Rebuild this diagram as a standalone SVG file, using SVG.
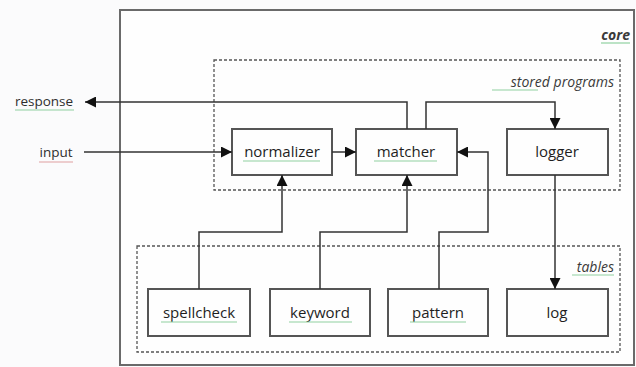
<svg xmlns="http://www.w3.org/2000/svg" width="636" height="367" viewBox="0 0 636 367">
  <style>
    .bg { fill: #fbfbfc; }
    .core { fill: #fefefe; stroke: #6a6a6a; stroke-width: 2; }
    .group { fill: none; stroke: #555; stroke-width: 1.3; stroke-dasharray: 3 2; }
    .node rect { fill: #fefefe; stroke: #555; stroke-width: 2; }
    .label { font-family: "Open Sans", "Liberation Sans", sans-serif; font-size: 15px; fill: #1e1e1e; text-anchor: middle; }
    .glabel { font-family: "Open Sans", "Liberation Sans", sans-serif; font-size: 14px; fill: #3a3a3a; font-style: italic; text-anchor: end; }
    .ext { font-family: "Open Sans", "Liberation Sans", sans-serif; font-size: 13.5px; fill: #2e2e2e; text-anchor: middle; }
    .wire { fill: none; stroke: #333; stroke-width: 1.5; }
    .sq-g { stroke: #8fd0a0; stroke-width: 1.2; }
    .sq-r { stroke: #e0a0a0; stroke-width: 1.2; }
  </style>
  <defs>
    <marker id="arrow" viewBox="0 0 10 10" refX="10" refY="5" markerWidth="12" markerHeight="11" markerUnits="userSpaceOnUse" orient="auto">
      <path d="M0,0 L10,5 L0,10 Z" fill="#111"/>
    </marker>
  </defs>

  <rect class="bg" x="0" y="0" width="636" height="367"/>

  <!-- outer container -->
  <g id="core">
    <rect class="core" x="120" y="10" width="514" height="355"/>
    <text class="glabel" x="630" y="40" font-weight="bold">core</text>
    <line class="sq-g" x1="601" y1="43" x2="630" y2="43"/>
  </g>

  <g id="stored-programs">
    <rect class="group" x="214" y="60" width="406" height="130"/>
    <text class="glabel" x="614" y="87">stored programs</text>
    <line class="sq-g" x1="492" y1="90" x2="538" y2="90"/>
  </g>

  <g id="tables">
    <rect class="group" x="137" y="246" width="483" height="106"/>
    <text class="glabel" x="614" y="272">tables</text>
    <line class="sq-g" x1="572" y1="275" x2="614" y2="275"/>
  </g>

  <!-- external labels -->
  <g id="response">
    <text class="ext" x="44" y="106">response</text>
    <line class="sq-g" x1="15" y1="110" x2="74" y2="110"/>
  </g>
  <g id="input">
    <text class="ext" x="56" y="157">input</text>
    <line class="sq-r" x1="39" y1="162" x2="73" y2="162"/>
  </g>

  <!-- program nodes -->
  <g id="normalizer" class="node">
    <rect x="232" y="129" width="100" height="46"/>
    <text class="label" x="282" y="157">normalizer</text>
    <line class="sq-g" x1="243" y1="161" x2="320" y2="161"/>
  </g>
  <g id="matcher" class="node">
    <rect x="356" y="129" width="101" height="46"/>
    <text class="label" x="406" y="157">matcher</text>
    <line class="sq-g" x1="374" y1="161" x2="437" y2="161"/>
  </g>
  <g id="logger" class="node">
    <rect x="507" y="129" width="101" height="46"/>
    <text class="label" x="557" y="157">logger</text>
  </g>

  <!-- table nodes -->
  <g id="spellcheck" class="node">
    <rect x="148" y="289" width="102" height="47"/>
    <text class="label" x="199" y="318">spellcheck</text>
    <line class="sq-g" x1="161" y1="322" x2="237" y2="322"/>
  </g>
  <g id="keyword" class="node">
    <rect x="270" y="289" width="100" height="47"/>
    <text class="label" x="320" y="318">keyword</text>
    <line class="sq-g" x1="289" y1="322" x2="352" y2="322"/>
  </g>
  <g id="pattern" class="node">
    <rect x="388" y="289" width="100" height="47"/>
    <text class="label" x="438" y="318">pattern</text>
    <line class="sq-g" x1="410" y1="322" x2="466" y2="322"/>
  </g>
  <g id="log" class="node">
    <rect x="507" y="289" width="101" height="47"/>
    <text class="label" x="557" y="318">log</text>
  </g>

  <!-- connectors -->
  <g id="connectors">
    <path class="wire" d="M407,129 V102 H85" marker-end="url(#arrow)"/>
    <path class="wire" d="M84,152 H232" marker-end="url(#arrow)"/>
    <path class="wire" d="M332,152 H356" marker-end="url(#arrow)"/>
    <path class="wire" d="M426,129 V102 H555 V129" marker-end="url(#arrow)"/>
    <path class="wire" d="M199,289 V232 H282 V175" marker-end="url(#arrow)"/>
    <path class="wire" d="M320,289 V232 H407 V175" marker-end="url(#arrow)"/>
    <path class="wire" d="M439,289 V232 H488 V152 H457" marker-end="url(#arrow)"/>
    <path class="wire" d="M555,175 V289" marker-end="url(#arrow)"/>
  </g>
</svg>
